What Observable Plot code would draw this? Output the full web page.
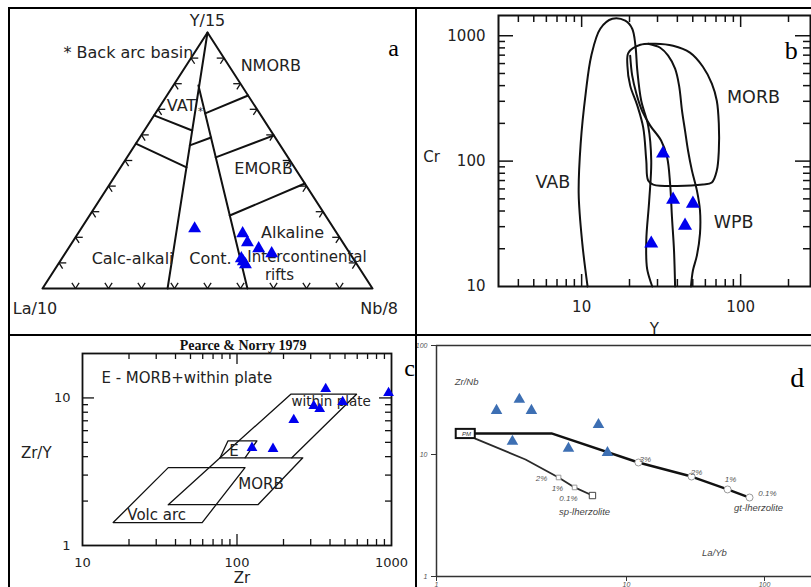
<!DOCTYPE html>
<html>
<head>
<meta charset="utf-8">
<script src="https://cdn.jsdelivr.net/npm/d3@7"></script>
<script src="https://cdn.jsdelivr.net/npm/@observablehq/plot@0.6"></script>
<style>
  html, body { margin: 0; padding: 0; background: #fff; overflow: hidden; }
  #fig { position: relative; width: 811px; height: 587px; overflow: hidden; background: #fff; }
  #fig svg { position: absolute; max-width: none; }
  .rule { position: absolute; background: #000; }
</style>
</head>
<body>
<div id="fig"></div>
<script>
const SANS = "DejaVu Sans";
const SERIF = "Liberation Serif";
const INK = "#222";

// ================= Panel a : La/10 - Y/15 - Nb/8 ternary =================
// compositions are [La/10, Y/15, Nb/8] in percent
const ternOutline = [[100,0,0],[0,100,0],[0,0,100],[100,0,0]];
const ternLine1 = [[0,100,0],[62.1,0,37.9]];
const ternLine2 = [[13.1,79.3,7.6],[37.9,0,62.1]];
const ternVatUpper = [[32.4,67.6,0],[23.8,61.7,14.5]];
const ternVatLower = [[43.4,56.6,0],[32.7,47.3,20.0]];
const ternBackArc = [[27.4,55.9,16.7],[19.4,59.0,21.6]];
const ternNmorbBase = [[16.5,68.4,15.1],[0,75.4,24.6]];
const ternEmorbTop = [[21.9,51.2,26.9],[0,59.8,40.2]];
const ternEmorbBase = [[29.0,28.5,42.5],[0,41.0,59.0]];
const ternSamples = [[42.2,23.4,34.4],[28.6,21.5,49.9],[28.9,18.0,53.1],[26.7,15.6,57.7],
                     [23.7,13.7,62.6],[33.9,11.7,54.4],[33.8,9.4,56.8],[33.9,10.5,55.6]];
const ternTickSteps = [10,20,30,40,50,60,70,80,90];
const ternTickArm = 2.2;
// labels in projected triangle units (x across base, y = Y/15 fraction)
const ternLabelsMid = [
  {t:"Y/15", x:0.5, y:1.047}, {t:"NMORB", x:0.692, y:0.871}, {t:"VAT", x:0.421, y:0.715},
  {t:"EMORB", x:0.670, y:0.469}, {t:"Alkaline", x:0.758, y:0.219}, {t:"Calc-alkali", x:0.273, y:0.117},
  {t:"Cont.", x:0.509, y:0.117},
  {t:"La/10", x:-0.0227, y:-0.078}, {t:"Nb/8", x:1.02, y:-0.078}
];
const ternLabelsStart = [{t:"* Back arc basin", x:0.0636, y:0.922}];
const ternLabelsRift = [{t:"Intercontinental", x:0.8015, y:0.124}, {t:"rifts", x:0.718, y:0.052}];

function proj(c) { const s = c[0] + c[1] + c[2]; return {x: (c[2] + c[1] / 2) / s, y: c[1] / s}; }
const ternLines = [ternOutline, ternLine1, ternLine2, ternVatUpper, ternVatLower, ternBackArc, ternNmorbBase, ternEmorbTop, ternEmorbBase]
  .flatMap((pts, i) => pts.map(p => ({id: i, ...proj(p)})));
const L = ternTickArm;
const ternTicks = ternTickSteps.flatMap(t => {
  const segs = [
    [[100-t,0,t],[100-t-L,L,t]], [[100-t,0,t],[100-t,L,t-L]],
    [[100-t,t,0],[100-t-L,t,L]], [[100-t,t,0],[100-t,t-L,L]],
    [[0,t,100-t],[L,t,100-t-L]], [[0,t,100-t],[L,t-L,100-t]]
  ];
  return segs.map(([a, b]) => { const p = proj(a), q = proj(b); return {x1: p.x, y1: p.y, x2: q.x, y2: q.y}; });
});

const panelA = Plot.plot({
  width: 415, height: 335, marginLeft: 42, marginRight: 43, marginTop: 32, marginBottom: 47,
  x: {domain: [0, 1], axis: null}, y: {domain: [0, 1], axis: null},
  style: {background: "transparent", overflow: "visible"},
  marks: [
    Plot.line(ternLines, {x: "x", y: "y", z: "id", stroke: "#111", strokeWidth: 2}),
    Plot.link(ternTicks, {x1: "x1", y1: "y1", x2: "x2", y2: "y2", stroke: "#111", strokeWidth: 1.3}),
    Plot.text(ternLabelsMid, {x: "x", y: "y", text: "t", fontSize: 16, fontFamily: SANS, fill: INK}),
    Plot.text(ternLabelsStart, {x: "x", y: "y", text: "t", fontSize: 16, fontFamily: SANS, fill: INK, textAnchor: "start"}),
    Plot.text(ternLabelsRift, {x: "x", y: "y", text: "t", fontSize: 15, fontFamily: SANS, fill: INK}),
    Plot.text([{t:"*", x:0.479, y:0.691}], {x: "x", y: "y", text: "t", fontSize: 10, fontFamily: SANS, fill: INK}),
    Plot.text([{t:"a", x:1.064, y:0.9375}], {x: "x", y: "y", text: "t", fontSize: 24, fontFamily: SERIF, fill: "#000"}),
    Plot.dot(ternSamples.map(proj), {x: "x", y: "y", symbol: "triangle", r: 4.8, fill: "#0000ee"})
  ]
});

// ================= Panel b : Cr vs Y =================
const vabField = [[10.9,10],[10.1,22.0],[9.58,55.1],[9.86,138],[10.6,345],[11.5,693],[13.1,1138],[15.6,1365],
  [18.8,1318],[20.8,1138],[21.8,832],[22.4,526],[23.7,303],[26.2,192],[27.4,101],[26.6,48.4],[25.5,23.3],[25.8,13.9],[27.8,10]];
const morbField = [[19.7,733],[23.4,848],[29.0,863],[37.6,832],[48.0,733],[57.9,566],[65.9,415],[70.8,303],[72.9,199],
  [72.9,121],[70.8,84],[65.9,67.5],[57.9,65.0],[28.2,65.0],[26.2,70.0],[25.5,101],[24.4,185],[22.4,277],[20.2,400],[19.4,577]];
const wpbLeft = [[20.2,693],[20.8,480],[22.1,345],[24.0,252],[27.0,192],[31.6,146],[34.5,107],[36.0,66.2],[37.0,35.5],[38.1,19.4],[38.7,10]];
const wpbRight = [[26.2,863],[31.2,802],[35.0,693],[38.7,546],[41.0,400],[42.8,252],[44.7,175],[46.7,121],[49.4,84],
  [53.1,58.2],[55.5,40.4],[55.5,26.4],[53.1,17.7],[50.1,13.4],[48.7,10]];
const crYSamples = [[32.5,115],[37.6,49.3],[50.1,45.8],[44.7,30.6],[27.4,22.0]];
const bXMajor = [10, 100];
const bXMinor = [4,5,6,7,8,9,20,30,40,50,60,70,80,90,200];
const bYMajor = [100, 1000];
const bYMinor = [20,30,40,50,60,70,80,90,200,300,400,500,600,700,800,900];
const bXLabels = [10, 100];
const bYLabels = [10, 100, 1000];
const bLabels = [{t:"MORB", x:120.5, y:321}, {t:"VAB", x:6.59, y:67.5}, {t:"WPB", x:90.4, y:32.4}];
const bDomX = [3, 275], bDomY = [10, 1450];
const bInnerW = 395 - 82 - 1, bInnerH = 335 - 15 - 49;

const openRows = [vabField, wpbLeft, wpbRight].flatMap((pts, i) => pts.map(p => ({id: i, x: p[0], y: p[1]})));
const panelB = Plot.plot({
  width: 395, height: 335, marginLeft: 82, marginRight: 1, marginTop: 15, marginBottom: 49,
  x: {type: "log", domain: bDomX, axis: null}, y: {type: "log", domain: bDomY, axis: null},
  style: {background: "transparent", overflow: "visible"},
  marks: [
    Plot.line(openRows, {x: "x", y: "y", z: "id", curve: "catmull-rom", stroke: "#111", strokeWidth: 2}),
    Plot.line(morbField, {x: d => d[0], y: d => d[1], curve: "catmull-rom-closed", stroke: "#111", strokeWidth: 2}),
    Plot.tickX(bXMinor, {x: d => d, insetTop: bInnerH - 7, stroke: "#111", strokeWidth: 1.5}),
    Plot.tickX(bXMajor, {x: d => d, insetTop: bInnerH - 12, stroke: "#111", strokeWidth: 1.5}),
    Plot.tickX(bXMinor, {x: d => d, insetBottom: bInnerH - 7, stroke: "#111", strokeWidth: 1.5}),
    Plot.tickX(bXMajor, {x: d => d, insetBottom: bInnerH - 12, stroke: "#111", strokeWidth: 1.5}),
    Plot.tickY(bYMinor, {y: d => d, insetRight: bInnerW - 7, stroke: "#111", strokeWidth: 1.5}),
    Plot.tickY(bYMajor, {y: d => d, insetRight: bInnerW - 15, stroke: "#111", strokeWidth: 1.5}),
    Plot.tickY(bYMinor, {y: d => d, insetLeft: bInnerW - 7, stroke: "#111", strokeWidth: 1.5}),
    Plot.tickY(bYMajor, {y: d => d, insetLeft: bInnerW - 15, stroke: "#111", strokeWidth: 1.5}),
    Plot.frame({stroke: "#111", strokeWidth: 2}),
    Plot.text(bXLabels, {x: d => d, y: () => bDomY[0], dy: 21, text: d => String(d), fontSize: 15, fontFamily: SANS, fill: INK}),
    Plot.text(bYLabels, {x: () => bDomX[0], y: d => d, dx: -13, textAnchor: "end", text: d => String(d), fontSize: 15, fontFamily: SANS, fill: INK}),
    Plot.text(bLabels, {x: "x", y: "y", text: "t", fontSize: 17.5, fontFamily: SANS, fill: INK}),
    Plot.text([{t:"Cr", x:1.14, y:106.6}, {t:"Y", x:28.6, y:4.54}], {x: "x", y: "y", text: "t", fontSize: 15, fontFamily: SANS, fill: INK}),
    Plot.text([{t:"b", x:208, y:759}], {x: "x", y: "y", text: "t", fontSize: 26, fontFamily: SERIF, fill: "#000"}),
    Plot.dot(crYSamples, {x: d => d[0], y: d => d[1], symbol: "triangle", r: 5.2, fill: "#0000ee"})
  ]
});

// ================= Panel c : Zr/Y vs Zr (Pearce & Norry 1979) =================
const pnVolcArc = [[15.8,1.43],[35.9,3.37],[112.7,3.37],[59.5,1.43],[15.8,1.43]];
const pnMorb = [[35.9,1.89],[77.7,3.93],[266.7,3.93],[136.6,1.89],[35.9,1.89]];
const pnWithinPlate = [[77.7,3.93],[223,10.6],[594,10.6],[226.4,3.93]];
const pnEmorb = [[77.7,3.93],[87.5,5.12],[134.6,5.12],[112.7,3.93]];
const pnSamples = [[375,11.5],[957,10.8],[314,8.83],[343,8.43],[483,9.4],[233,7.1],[125,4.59],[171,4.52]];
const cXMajor = [100];
const cXMinor = [20,30,40,50,60,70,80,90,200,300,400,500,600,700,800,900];
const cYMajor = [10];
const cYMinor = [2,3,4,5,6,7,8,9];
const cXLabels = [10, 100, 1000];
const cYLabels = [1, 10];
const cDomX = [10, 1000], cDomY = [1, 20];
const cInnerW = 415 - 82 - 24, cInnerH = 252 - 18 - 42;
const cLabels = [{t:"E - MORB+within plate", x:47.3, y:13.65}, {t:"MORB", x:143, y:2.62}, {t:"Volc arc", x:30.2, y:1.6},
  {t:"E", x:95.6, y:4.38}, {t:"Zr/Y", x:5.02, y:4.25}, {t:"Zr", x:107.7, y:0.6}];

const polyRows = [pnVolcArc, pnMorb, pnWithinPlate, pnEmorb].flatMap((pts, i) => pts.map(p => ({id: i, x: p[0], y: p[1]})));
const panelC = Plot.plot({
  width: 415, height: 252, marginLeft: 82, marginRight: 24, marginTop: 18, marginBottom: 42,
  x: {type: "log", domain: cDomX, axis: null}, y: {type: "log", domain: cDomY, axis: null},
  style: {background: "transparent", overflow: "visible"},
  marks: [
    Plot.line(polyRows, {x: "x", y: "y", z: "id", stroke: "#111", strokeWidth: 1.3}),
    Plot.tickX(cXMinor, {x: d => d, insetTop: cInnerH - 6, stroke: "#111", strokeWidth: 1.3}),
    Plot.tickX(cXMajor, {x: d => d, insetTop: cInnerH - 11, stroke: "#111", strokeWidth: 1.3}),
    Plot.tickX(cXMinor, {x: d => d, insetBottom: cInnerH - 6, stroke: "#111", strokeWidth: 1.3}),
    Plot.tickX(cXMajor, {x: d => d, insetBottom: cInnerH - 11, stroke: "#111", strokeWidth: 1.3}),
    Plot.tickY(cYMinor, {y: d => d, insetRight: cInnerW - 6, stroke: "#111", strokeWidth: 1.3}),
    Plot.tickY(cYMajor, {y: d => d, insetRight: cInnerW - 12, stroke: "#111", strokeWidth: 1.3}),
    Plot.tickY(cYMinor, {y: d => d, insetLeft: cInnerW - 6, stroke: "#111", strokeWidth: 1.3}),
    Plot.tickY(cYMajor, {y: d => d, insetLeft: cInnerW - 12, stroke: "#111", strokeWidth: 1.3}),
    Plot.frame({stroke: "#111", strokeWidth: 1.8}),
    Plot.text(cXLabels, {x: d => d, y: () => cDomY[0], dy: 17, text: d => String(d), fontSize: 13, fontFamily: SANS, fill: INK}),
    Plot.text(cYLabels, {x: () => cDomX[0], y: d => d, dx: -12, textAnchor: "end", text: d => String(d), fontSize: 13, fontFamily: SANS, fill: INK}),
    Plot.text(cLabels, {x: "x", y: "y", text: "t", fontSize: 15, fontFamily: SANS, fill: INK}),
    Plot.text([{t:"within plate", x:407, y:9.4}], {x: "x", y: "y", text: "t", fontSize: 13.5, fontFamily: SANS, fill: INK}),
    Plot.text([{t:"Pearce & Norry 1979", x:109.5, y:22.5}], {x: "x", y: "y", text: "t", fontSize: 14, fontWeight: "bold", fontFamily: SERIF, fill: "#111"}),
    Plot.text([{t:"c", x:1309, y:15.95}], {x: "x", y: "y", text: "t", fontSize: 24, fontFamily: SERIF, fill: "#000"}),
    Plot.dot(pnSamples, {x: d => d[0], y: d => d[1], symbol: "triangle", r: 4, fill: "#0000ee"})
  ]
});

// ================= Panel d : Zr/Nb vs La/Yb melting model =================
const pmBox = [{x1: 1.27, x2: 1.60, y1: 14.0, y2: 17.0}];
const pmPoint = [{t: "PM", x: 1.44, y: 15.4}];
const gtMeltCurve = [[1.60,15.6],[4.03,15.6],[12.2,8.6],[29.6,6.6],[54,5.17],[77.9,4.44]];
const spMeltCurve = [[1.60,14.0],[2.94,9.1],[4.39,6.48],[5.33,5.37],[6.62,4.61]];
const gtMarks = [[12.2,8.6],[29.6,6.6],[54,5.17],[77.9,4.44]];
const spMarks = [[4.39,6.48],[5.33,5.37]];
const spEnd = [[6.62,4.61]];
const meltPctLabels = [{t:"3%", x:13.7, y:9.1}, {t:"2%", x:32.2, y:7.12}, {t:"1%", x:56.7, y:6.24}, {t:"0.1%", x:105, y:4.79},
  {t:"2%", x:3.57, y:6.36}, {t:"1%", x:4.33, y:5.26}, {t:"0.1%", x:4.95, y:4.36}];
const dLabels = [{t:"Zr/Nb", x:1.44, y:46.7}, {t:"La/Yb", x:43.4, y:1.57}, {t:"sp-lherzolite", x:6.01, y:3.41}, {t:"gt-lherzolite", x:90.5, y:3.68}];
const mlSamples = [[2.07,25.3],[2.73,32],[3.16,25.3],[2.51,13.2],[7.12,18.8],[4.95,11.35],[7.94,10.4]];
const dTicks = [1, 10, 100];
const dInnerW = 395 - 20, dInnerH = 252 - 10 - 11;

const panelD = Plot.plot({
  width: 395, height: 252, marginLeft: 20, marginRight: 0, marginTop: 10, marginBottom: 11,
  x: {type: "log", domain: [1, 10, 100], range: [20, 210, 348], axis: null},
  y: {type: "log", domain: [1, 10, 100], range: [241, 119, 10], axis: null},
  style: {background: "transparent", overflow: "visible"},
  marks: [
    Plot.ruleX([1], {stroke: "#333", strokeWidth: 1.5}),
    Plot.ruleY([1, 100], {stroke: "#333", strokeWidth: 1.5}),
    Plot.tickY(dTicks, {y: d => d, insetLeft: -5, insetRight: dInnerW, stroke: "#333"}),
    Plot.tickX(dTicks, {x: d => d, insetTop: dInnerH, insetBottom: -5, stroke: "#333"}),
    Plot.text(dTicks, {x: () => 1, y: d => d, dx: -9, textAnchor: "end", text: d => String(d), fontSize: 7, fontStyle: "italic", fontFamily: "Liberation Sans", fill: "#555"}),
    Plot.text(dTicks, {x: d => d, y: () => 1, dy: 8, text: d => String(d), fontSize: 7, fontStyle: "italic", fontFamily: "Liberation Sans", fill: "#555"}),
    Plot.line(spMeltCurve, {x: d => d[0], y: d => d[1], stroke: "#2a2a2a", strokeWidth: 1.8}),
    Plot.line(gtMeltCurve, {x: d => d[0], y: d => d[1], stroke: "#111", strokeWidth: 2.4}),
    Plot.dot(gtMarks, {x: d => d[0], y: d => d[1], r: 3.5, fill: "white", stroke: "#999", strokeWidth: 1}),
    Plot.dot(spMarks, {x: d => d[0], y: d => d[1], symbol: "square", r: 2.6, fill: "white", stroke: "#999", strokeWidth: 1}),
    Plot.dot(spEnd, {x: d => d[0], y: d => d[1], symbol: "square", r: 3.6, fill: "white", stroke: "#444", strokeWidth: 1}),
    Plot.rect(pmBox, {x1: "x1", x2: "x2", y1: "y1", y2: "y2", fill: "white", stroke: "#111", strokeWidth: 2}),
    Plot.text(pmPoint, {x: "x", y: "y", text: "t", fontSize: 6, fontStyle: "italic", fontFamily: "Liberation Sans", fill: "#333"}),
    Plot.text(meltPctLabels, {x: "x", y: "y", text: "t", fontSize: 8, fontStyle: "italic", fontFamily: "Liberation Sans", fill: "#555"}),
    Plot.text(dLabels, {x: "x", y: "y", text: "t", fontSize: 9.5, fontStyle: "italic", fontFamily: "Liberation Sans", fill: "#444"}),
    Plot.text([{t:"d", x:173, y:49.8}], {x: "x", y: "y", text: "t", fontSize: 28, fontFamily: SERIF, fill: "#000"}),
    Plot.dot(mlSamples, {x: d => d[0], y: d => d[1], symbol: "triangle", r: 4.3, fill: "#3d6fb3"})
  ]
});

const fig = document.getElementById("fig");
function place(svg, left, top) { svg.style.left = left + "px"; svg.style.top = top + "px"; fig.appendChild(svg); }
place(panelA, 0, 0);
place(panelB, 416, 0);
place(panelC, 0, 335);
place(panelD, 416, 335);

// panel borders
const borders = [
  {l: 8, t: 7, w: 803, h: 2}, {l: 8, t: 7, w: 2, h: 580},
  {l: 415, t: 7, w: 2, h: 580}, {l: 8, t: 334, w: 803, h: 2}
];
borders.forEach(b => {
  const d = document.createElement("div");
  d.className = "rule";
  Object.assign(d.style, {left: b.l + "px", top: b.t + "px", width: b.w + "px", height: b.h + "px"});
  fig.appendChild(d);
});
</script>
</body>
</html>
